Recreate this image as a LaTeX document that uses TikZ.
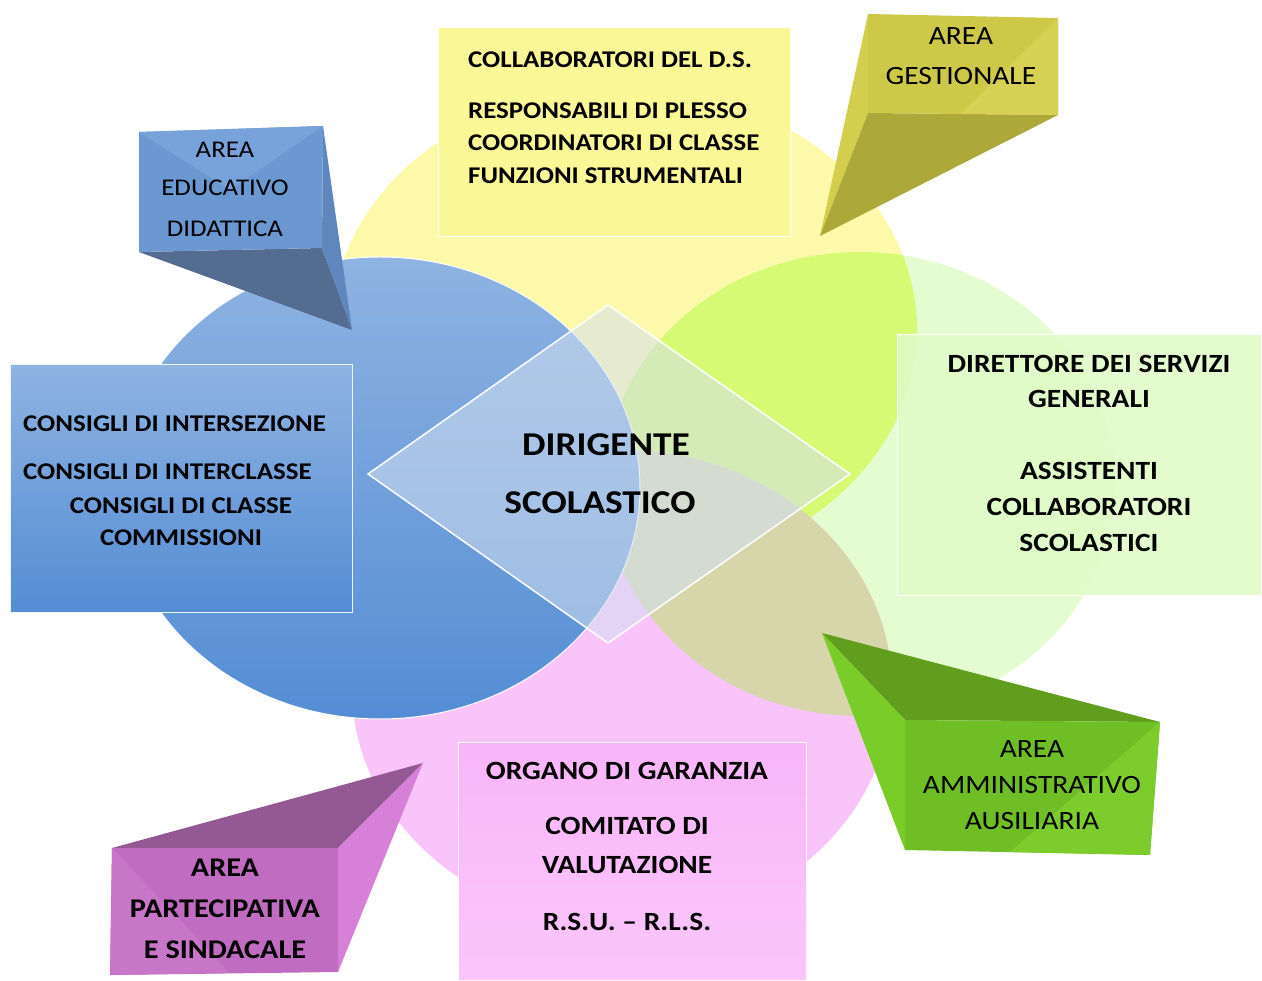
\documentclass[tikz,border=0pt]{standalone}
\usepackage{fontspec}
\setmainfont{Carlito}[FakeStretch=1.12]
\definecolor{yelcirc}{RGB}{252,249,170}
\definecolor{grncirc}{RGB}{228,252,208}
\definecolor{ygcirc}{RGB}{214,250,115}
\definecolor{pnkcirc}{RGB}{249,196,249}
\definecolor{olvcirc}{RGB}{214,214,170}
\definecolor{blutop}{RGB}{143,179,226}
\definecolor{blubot}{RGB}{84,141,212}
\definecolor{dmdfill}{RGB}{212,224,240}
\definecolor{yelbox}{RGB}{250,247,150}
\definecolor{grnbox}{RGB}{224,251,200}
\definecolor{pnkbox}{RGB}{249,182,249}
\definecolor{pnkboxlt}{RGB}{250,198,250}
\definecolor{edufront}{RGB}{108,152,210}
\definecolor{edulight}{RGB}{120,162,218}
\definecolor{edubot}{RGB}{85,108,145}
\definecolor{eduside}{RGB}{95,135,190}
\definecolor{gesfront}{RGB}{205,200,72}
\definecolor{geslight}{RGB}{214,208,84}
\definecolor{gesbot}{RGB}{172,168,58}
\definecolor{gesside}{RGB}{212,206,78}
\definecolor{amfront}{RGB}{112,190,38}
\definecolor{amlight}{RGB}{124,204,44}
\definecolor{amtop}{RGB}{98,158,30}
\definecolor{amside}{RGB}{122,205,40}
\definecolor{parfront}{RGB}{192,108,192}
\definecolor{parlight}{RGB}{200,118,200}
\definecolor{partop}{RGB}{148,88,148}
\definecolor{parside}{RGB}{215,128,215}

\begin{document}
\begin{tikzpicture}[x=1pt, y=-1pt,
    boxtext/.style={font=\fontsize{24}{28}\selectfont\bfseries, inner sep=0pt},
    bigtext/.style={font=\fontsize{26.3}{30}\selectfont\bfseries, inner sep=0pt},
    areatext/.style={font=\fontsize{24}{28}\selectfont, inner sep=0pt},
    areawide/.style={font=\fontsize{26.4}{30}\selectfont, inner sep=0pt},
    areabold/.style={font=\fontsize{27}{31}\selectfont\bfseries, inner sep=0pt},
    bosstext/.style={font=\fontsize{33.3}{38}\selectfont\bfseries, inner sep=0pt}]
    \useasboundingbox (0,0) rectangle (1262,981);
    \fill[white] (0,0) rectangle (1262,981);

    \fill[yelcirc] (624,330) ellipse [x radius=293, y radius=243];
    \fill[grncirc] (860,484) ellipse [x radius=255, y radius=232];
    \begin{scope}
        \clip (624,330) ellipse [x radius=293, y radius=243];
        \fill[ygcirc] (860,484) ellipse [x radius=255, y radius=232];
    \end{scope}
    \fill[pnkcirc] (622,688) ellipse [x radius=270, y radius=238];
    \begin{scope}
        \clip (860,484) ellipse [x radius=255, y radius=232];
        \fill[olvcirc] (622,688) ellipse [x radius=270, y radius=238];
    \end{scope}
    \shade[top color=blutop, bottom color=blubot, draw=white, line width=1pt]
        (380,488) ellipse [x radius=260, y radius=231];

    \filldraw[draw=white, line width=1.5pt, fill=dmdfill, fill opacity=0.55]
        (368,474) -- (608,305) -- (850,474) -- (608,643) -- cycle;
    \node[bosstext] (dir) at (606,445) {DIRIGENTE};
    \node[bosstext] (sco) at (600,503) {SCOLASTICO};

    \filldraw[draw=white, line width=1pt, fill=yelbox] (438,28) rectangle (790,237);
    \node[boxtext, anchor=west] (coll) at (468,60) {COLLABORATORI DEL D.S.};
    \node[boxtext, anchor=west] (resp) at (468,111) {RESPONSABILI DI PLESSO};
    \node[boxtext, anchor=west] (coor) at (468,143) {COORDINATORI DI CLASSE};
    \node[boxtext, anchor=west] (funz) at (468,176) {FUNZIONI STRUMENTALI};

    \shade[top color=blutop, bottom color=blubot, draw=white!85!blutop, line width=1pt]
        (10,365) rectangle (352,612);
    \node[boxtext, anchor=west] (inse) at (23,424) {CONSIGLI DI INTERSEZIONE};
    \node[boxtext, anchor=west] (inte) at (23,472) {CONSIGLI DI INTERCLASSE};
    \node[boxtext] (clas) at (181,506) {CONSIGLI DI CLASSE};
    \node[boxtext] (comm) at (181,538) {COMMISSIONI};

    \filldraw[draw=white, line width=1pt, fill=grnbox, fill opacity=0.9] (897,335) rectangle (1261,595);
    \node[bigtext] (dsga) at (1089,364) {DIRETTORE DEI SERVIZI};
    \node[bigtext] (gene) at (1089,399) {GENERALI};
    \node[bigtext] (assi) at (1089,471) {ASSISTENTI};
    \node[bigtext] (cola) at (1089,507) {COLLABORATORI};
    \node[bigtext] (scol) at (1089,543) {SCOLASTICI};

    \shade[top color=pnkbox, bottom color=pnkboxlt, draw=white, line width=1pt]
        (458,742) rectangle (806,980);
    \node[bigtext] (orga) at (627,771) {ORGANO DI GARANZIA};
    \node[bigtext] (comi) at (627,826) {COMITATO DI};
    \node[bigtext] (valu) at (627,865) {VALUTAZIONE};
    \node[bigtext] (rsu) at (627,922) {R.S.U. – R.L.S.};

    \fill[edubot] (139,252) -- (322,248) -- (352,330) -- cycle;
    \fill[eduside] (323,126) -- (322,248) -- (352,330) -- cycle;
    \fill[edufront] (139,132) -- (323,126) -- (322,248) -- (139,252) -- cycle;
    \fill[edulight] (139,132) -- (323,126) -- (230,190) -- cycle;
    \node[areatext] (edu1) at (225,150) {AREA};
    \node[areatext] (edu2) at (225,188) {EDUCATIVO};
    \node[areatext] (edu3) at (225,229) {DIDATTICA};

    \fill[gesside] (868,14) -- (868,113) -- (820,236) -- cycle;
    \fill[gesbot] (868,113) -- (1058,115) -- (820,236) -- cycle;
    \fill[gesfront] (868,14) -- (1058,18) -- (1058,115) -- (868,113) -- cycle;
    \fill[geslight] (1058,18) -- (1058,115) -- (960,114) -- cycle;
    \node[areawide] (ges1) at (961,36) {AREA};
    \node[areawide] (ges2) at (961,76) {GESTIONALE};

    \fill[amtop] (822,633) -- (1160,722) -- (905,720) -- cycle;
    \fill[amside] (822,633) -- (905,720) -- (905,850) -- cycle;
    \fill[amfront] (905,720) -- (1160,722) -- (1150,855) -- (905,850) -- cycle;
    \fill[amlight] (1160,722) -- (1150,855) -- (1010,852) -- cycle;
    \node[areawide] (amm1) at (1032,749) {AREA};
    \node[areawide] (amm2) at (1032,785) {AMMINISTRATIVO};
    \node[areawide] (amm3) at (1032,821) {AUSILIARIA};

    \fill[partop] (423,763) -- (338,848) -- (112,848) -- cycle;
    \fill[parside] (423,763) -- (338,848) -- (338,972) -- cycle;
    \fill[parfront] (112,848) -- (338,848) -- (338,972) -- (110,975) -- cycle;
    \fill[parlight] (112,848) -- (110,975) -- (230,973) -- cycle;
    \node[areabold] (par1) at (225,868) {AREA};
    \node[areabold] (par2) at (225,909) {PARTECIPATIVA};
    \node[areabold] (par3) at (225,950) {E SINDACALE};
\end{tikzpicture}
\end{document}
